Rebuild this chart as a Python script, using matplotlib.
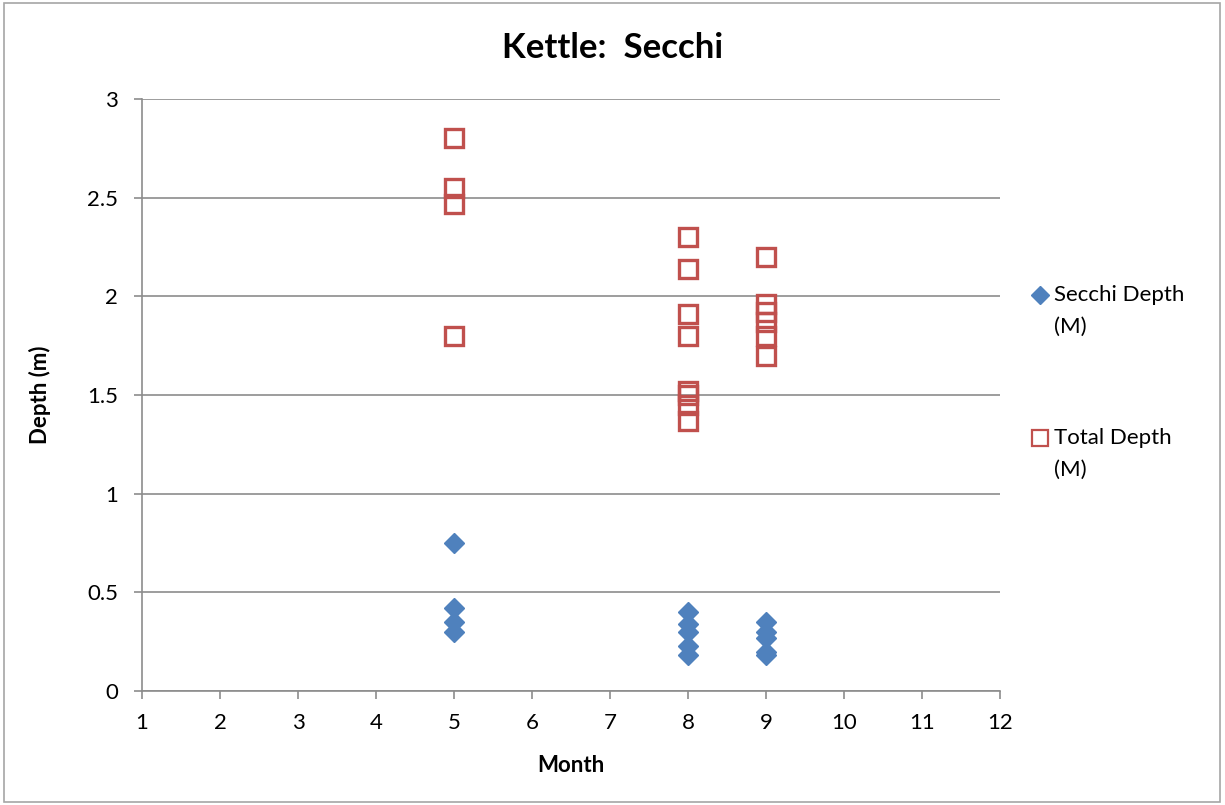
import matplotlib
matplotlib.use("Agg")
import matplotlib.pyplot as plt
from matplotlib.patches import Rectangle
from matplotlib.lines import Line2D

plt.rcParams["font.family"] = ["Lato", "DejaVu Sans"]

# Secchi depth (m) by month
secchi_month = [5, 5, 5, 5, 8, 8, 8, 8, 8, 9, 9, 9, 9, 9]
secchi_depth = [0.75, 0.42, 0.35, 0.30, 0.40, 0.34, 0.30, 0.23, 0.18, 0.35, 0.30, 0.27, 0.20, 0.18]

# Total depth (m) by month
total_month = [5, 5, 5, 5, 8, 8, 8, 8, 8, 8, 8, 8, 9, 9, 9, 9, 9, 9]
total_depth = [2.80, 2.55, 2.47, 1.80, 2.30, 2.14, 1.91, 1.80, 1.52, 1.50, 1.45, 1.37,
               2.20, 1.96, 1.92, 1.87, 1.80, 1.70]

x_ticks = list(range(1, 13))
y_ticks = [0, 0.5, 1, 1.5, 2, 2.5, 3]
y_tick_labels = ["0", "0.5", "1", "1.5", "2", "2.5", "3"]
legend_labels = ["Secchi Depth\n(M)", "Total Depth\n(M)"]

BLUE = "#4F81BD"
RED = "#C0504D"
GRID = "#8C8C8C"
FS = 16

fig = plt.figure(figsize=(12.25, 8.05), dpi=100)
fig.patches.append(Rectangle((0.003, 0.004), 0.993, 0.992, transform=fig.transFigure,
                             fill=False, edgecolor="#A6A6A6", linewidth=1.2))

ax = fig.add_axes([0.1159, 0.1416, 0.7004, 0.7354])
ax.set_xlim(1, 12)
ax.set_ylim(0, 3)
ax.set_xticks(x_ticks)
ax.set_yticks(y_ticks)
ax.set_yticklabels(y_tick_labels)
ax.yaxis.grid(True, color=GRID, linewidth=1.2)
ax.set_axisbelow(True)
for side in ["top", "right"]:
    ax.spines[side].set_visible(False)
for side in ["left", "bottom"]:
    ax.spines[side].set_color(GRID)
    ax.spines[side].set_linewidth(1.2)
ax.tick_params(axis="both", colors=GRID, labelcolor="black", labelsize=FS,
               length=6, width=1.2)
ax.tick_params(axis="x", pad=10)
ax.tick_params(axis="y", pad=11)

ax.plot(secchi_month, secchi_depth, linestyle="none", marker="D", markersize=10.5,
        markerfacecolor=BLUE, markeredgecolor=BLUE, markeredgewidth=1)
ax.plot(total_month, total_depth, linestyle="none", marker="s", markersize=13.5,
        markerfacecolor="none", markeredgecolor=RED, markeredgewidth=2.4)

ax.set_xlabel("Month", fontsize=FS, fontweight="bold", labelpad=16)
ax.set_ylabel("Depth (m)", fontsize=FS, fontweight="bold", labelpad=26)
fig.suptitle("Kettle:  Secchi", x=0.5, y=0.96, fontsize=25, fontweight="bold")

# legend drawn by hand: marker beside the first line of each label
legend_keys = [
    dict(marker="D", markersize=9, markerfacecolor=BLUE, markeredgecolor=BLUE),
    dict(marker="s", markersize=12, markerfacecolor="none", markeredgecolor=RED,
         markeredgewidth=1.6),
]
for i, (label, key) in enumerate(zip(legend_labels, legend_keys)):
    y = 1 - (295 + i * 143) / 805
    fig.add_artist(Line2D([1040 / 1225], [y], transform=fig.transFigure,
                          linestyle="none", **key))
    fig.text(1054 / 1225, y + 10 / 805, label, fontsize=FS, ha="left", va="top",
             linespacing=1.72)

fig.savefig("out.png", dpi=100)
